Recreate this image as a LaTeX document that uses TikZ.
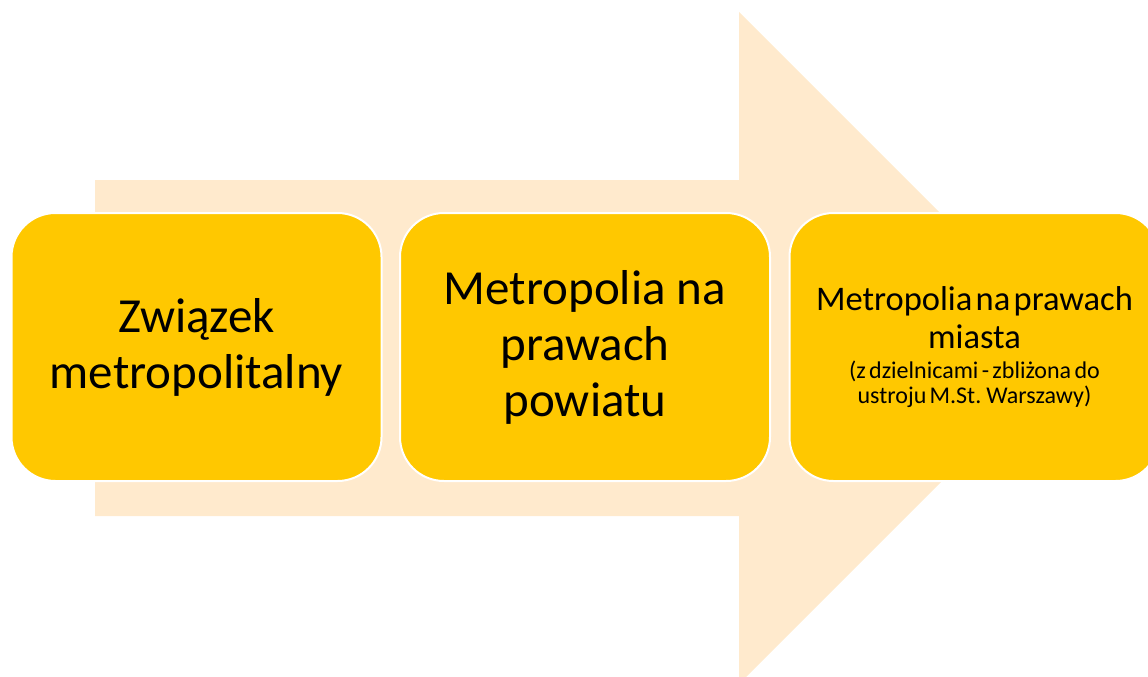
\documentclass[tikz,border=0pt]{standalone}
\usepackage{fontspec}
\setmainfont{Carlito}
\definecolor{stagefill}{HTML}{FFC800}
\definecolor{arrowfill}{HTML}{FFEACD}
\begin{document}
\begin{tikzpicture}[x=1pt,y=-1pt,
  stagebox/.style={draw=white, line width=2pt, fill=stagefill,
    rounded corners=44pt, minimum width=370pt, minimum height=268pt,
    inner sep=0pt, align=center, text=black},
  bigtext/.style={font=\fontsize{49}{56}\selectfont}]
  \useasboundingbox (0,0) rectangle (1148,677);
  \clip (0,0) rectangle (1148,677);
  % background block arrow
  \fill[arrowfill] (95,180) -- (739,180) -- (739,12) -- (1075,348)
    -- (739,684) -- (739,516) -- (95,516) -- cycle;
  % three stages
  \node[stagebox, bigtext] (s1) at (196.5,347) {Związek\\metropolitalny};
  \node[stagebox, bigtext] (s2) at (585,347) {Metropolia na\\prawach\\powiatu};
  \node[stagebox, text width=366pt] (s3) at (974.5,347)
    {{\fontsize{34.5}{38.5}\selectfont Metropolia na prawach\\miasta\par}%
     \vspace{5pt}%
     {\fontsize{24}{25}\selectfont (z dzielnicami - zbliżona do\\ustroju M.St. Warszawy)\par}};
\end{tikzpicture}
\end{document}
